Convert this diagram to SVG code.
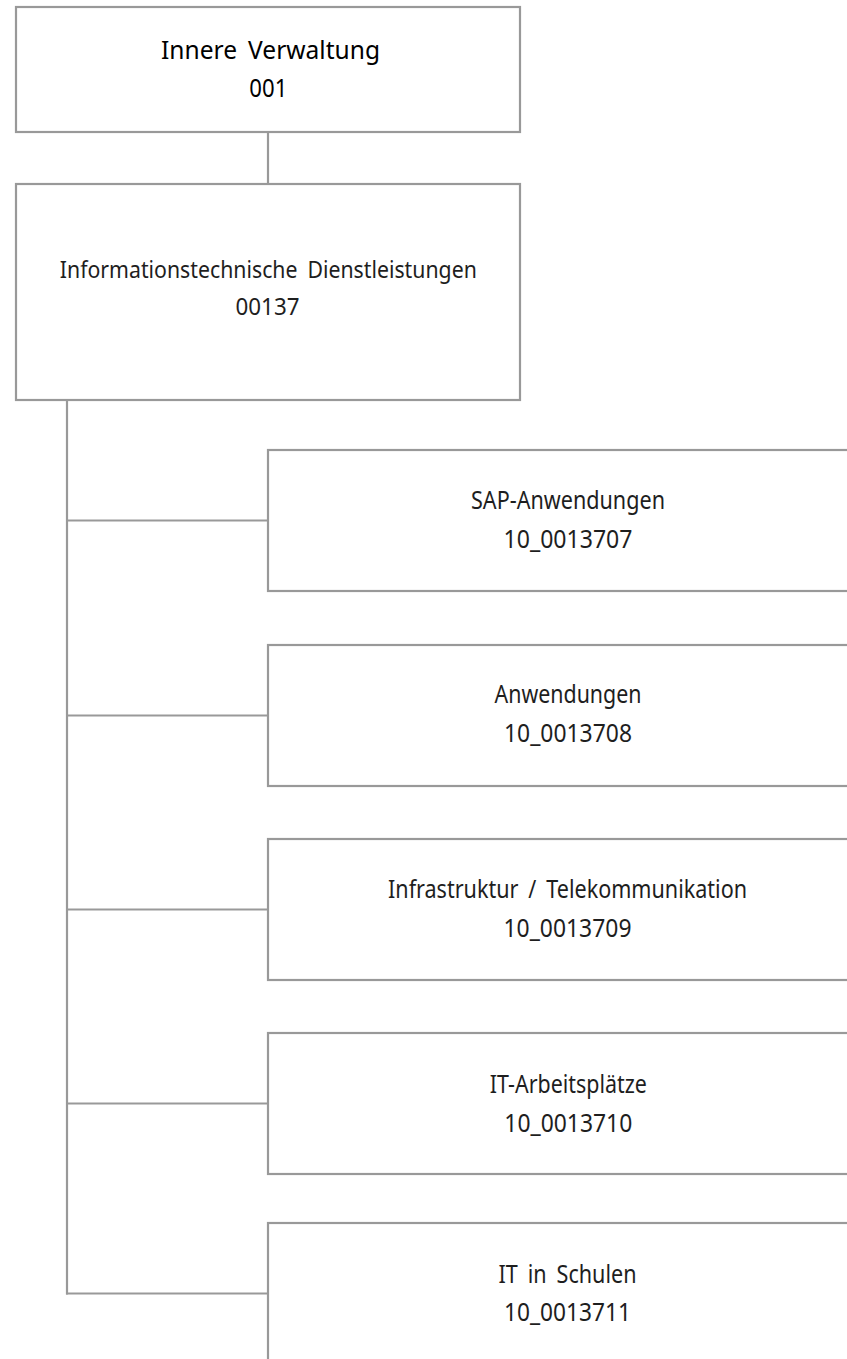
<svg xmlns="http://www.w3.org/2000/svg" width="847" height="1359" viewBox="0 0 847 1359">
<style>
.box{fill:#ffffff;stroke:#999999;stroke-width:2.2}
.con{fill:none;stroke:#999999;stroke-width:2.2}
.t{font-family:"Noto Sans","Open Sans",sans-serif;font-size:25px;fill:#1e1e1e;text-anchor:middle;word-spacing:5px}
.m{font-family:"Noto Sans","Open Sans",sans-serif;font-size:24px;fill:#1e1e1e;text-anchor:middle;word-spacing:5px}
.tt{font-family:"Noto Sans","Open Sans",sans-serif;font-size:26px;fill:#000000;text-anchor:middle;word-spacing:5px}
</style>
<rect x="0" y="0" width="847" height="1359" fill="#ffffff"/>
<g id="connectors">
<line class="con" x1="268" y1="132" x2="268" y2="184"/>
<line class="con" x1="67" y1="400" x2="67" y2="1294.5"/>
<line class="con" x1="66" y1="520.5" x2="268" y2="520.5"/>
<line class="con" x1="66" y1="715.5" x2="268" y2="715.5"/>
<line class="con" x1="66" y1="909.5" x2="268" y2="909.5"/>
<line class="con" x1="66" y1="1103.5" x2="268" y2="1103.5"/>
<line class="con" x1="66" y1="1293.5" x2="268" y2="1293.5"/>
</g>
<g id="n001">
<rect class="box" x="16" y="7" width="504" height="125"/>
<text class="tt" x="270.5" y="59" textLength="219" lengthAdjust="spacingAndGlyphs">Innere Verwaltung</text>
<text class="tt" x="268.3" y="97" textLength="38" lengthAdjust="spacingAndGlyphs">001</text>
</g>
<g id="n00137">
<rect class="box" x="16" y="184" width="504" height="216"/>
<text class="m" x="268.3" y="278" textLength="417" lengthAdjust="spacingAndGlyphs">Informationstechnische Dienstleistungen</text>
<text class="m" x="267.5" y="315" textLength="64" lengthAdjust="spacingAndGlyphs">00137</text>
</g>
<g id="n10_0013707">
<rect class="box" x="268" y="450" width="600" height="141"/>
<text class="t" x="568" y="509" textLength="194" lengthAdjust="spacingAndGlyphs">SAP-Anwendungen</text>
<text class="t" x="568" y="547.5" textLength="129" lengthAdjust="spacingAndGlyphs">10_0013707</text>
</g>
<g id="n10_0013708">
<rect class="box" x="268" y="645" width="600" height="141"/>
<text class="t" x="568" y="702.5" textLength="147" lengthAdjust="spacingAndGlyphs">Anwendungen</text>
<text class="t" x="568" y="742" textLength="128" lengthAdjust="spacingAndGlyphs">10_0013708</text>
</g>
<g id="n10_0013709">
<rect class="box" x="268" y="839" width="600" height="141"/>
<text class="t" x="567.5" y="898" textLength="359" lengthAdjust="spacingAndGlyphs">Infrastruktur / Telekommunikation</text>
<text class="t" x="567.5" y="936.5" textLength="128" lengthAdjust="spacingAndGlyphs">10_0013709</text>
</g>
<g id="n10_0013710">
<rect class="box" x="268" y="1033" width="600" height="141"/>
<text class="t" x="568.3" y="1092.7" textLength="157" lengthAdjust="spacingAndGlyphs">IT-Arbeitsplätze</text>
<text class="t" x="568.3" y="1131.5" textLength="128" lengthAdjust="spacingAndGlyphs">10_0013710</text>
</g>
<g id="n10_0013711">
<rect class="box" x="268" y="1223" width="600" height="141"/>
<text class="t" x="567.5" y="1283" textLength="138" lengthAdjust="spacingAndGlyphs">IT in Schulen</text>
<text class="t" x="567.5" y="1321" textLength="127" lengthAdjust="spacingAndGlyphs">10_0013711</text>
</g>
</svg>
